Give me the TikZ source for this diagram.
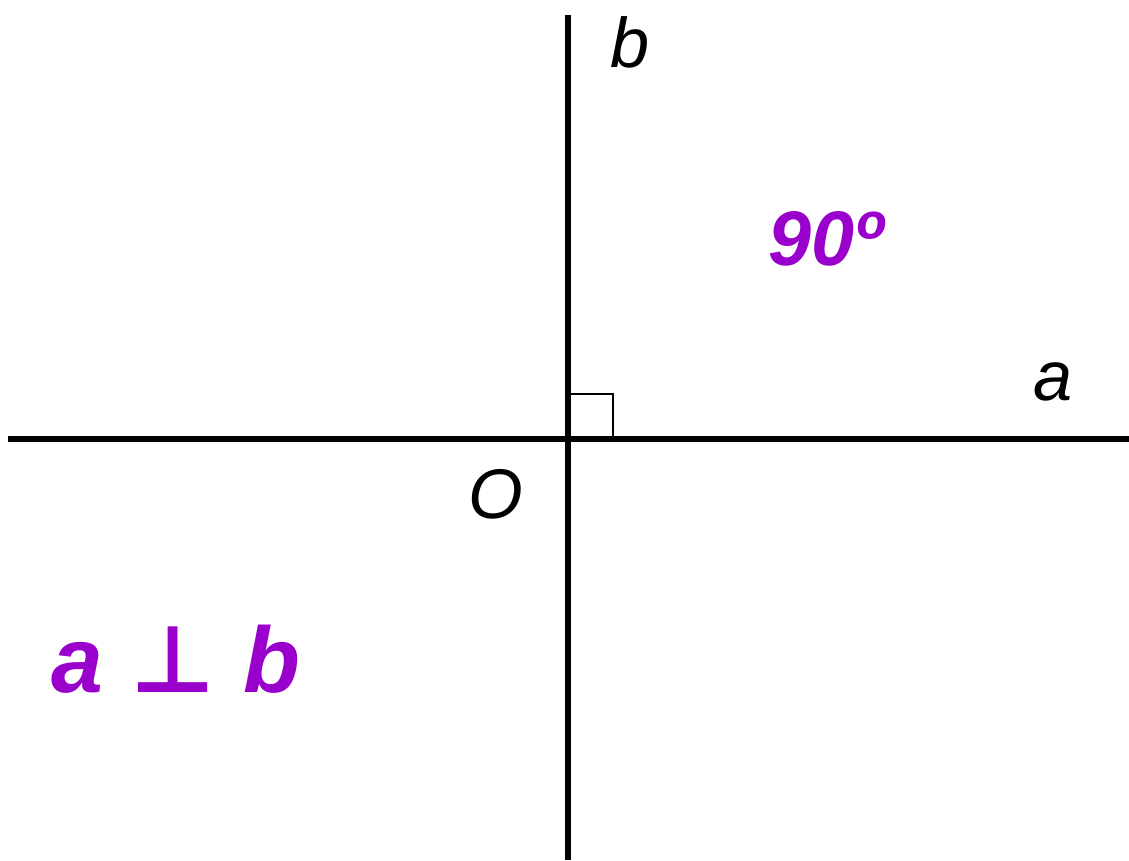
\documentclass[tikz,border=0pt]{standalone}
\usepackage{fontspec}
\setmainfont{Liberation Sans}
\newfontfamily\symfont{DejaVu Sans}
\usetikzlibrary{positioning,calc}
\definecolor{perpviolet}{RGB}{153,0,204}

\begin{document}
\begin{tikzpicture}[
    x=0.02cm, y=-0.02cm,
    axis/.style={line width=3.6pt},
    mark90/.style={line width=0.8pt},
    lbl/.style={font=\fontsize{40}{40}\selectfont\itshape, anchor=base, inner sep=0pt},
    note/.style={font=\fontsize{44}{44}\selectfont\bfseries\itshape, text=perpviolet,
                 anchor=base, inner sep=0pt},
]
\useasboundingbox (0,0) rectangle (1129,860);

% ---- lines ----
\coordinate (O)  at (568,439);
\coordinate (aL) at (8,439);
\coordinate (aR) at (1129,439);
\coordinate (bT) at (568,15);
\coordinate (bB) at (568,860);

\draw[axis] (aL) -- (aR);
\draw[axis] (bT) -- (bB);
\draw[mark90] ($(O)+(0,-45)$) -- ++(45,0) -- ++(0,45);

% ---- labels ----
\node[lbl] (lb) at (630,67)  {b};
\node[lbl] (la) at (1053,400) {a};
\node[lbl] (lo) at (496,518) {O};
\node[note] (ang) at (826,265) {90º};
\node[note, font=\fontsize{53}{53}\selectfont\bfseries\itshape] (rel) at (176,692)
     {a\hspace{0.3em}{\symfont\upshape\bfseries ⊥}\hspace{0.3em}b};
\end{tikzpicture}
\end{document}
